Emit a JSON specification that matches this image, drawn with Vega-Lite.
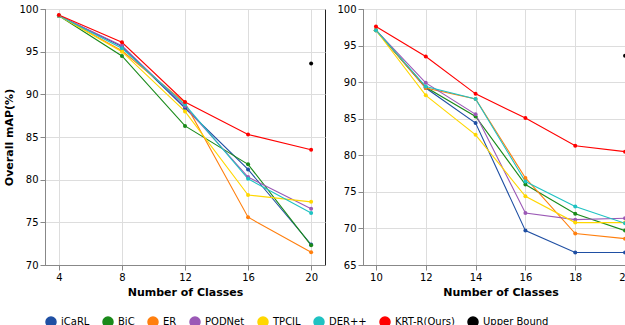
{
  "$schema": "https://vega.github.io/schema/vega-lite/v6.json",
  "padding": 3,
  "background": "white",
  "data": {"values": [
    {"p": "a", "m": "iCaRL", "x": 4, "y": 99.2}, {"p": "a", "m": "iCaRL", "x": 8, "y": 95.6}, {"p": "a", "m": "iCaRL", "x": 12, "y": 88.4}, {"p": "a", "m": "iCaRL", "x": 16, "y": 81.2}, {"p": "a", "m": "iCaRL", "x": 20, "y": 72.4},
    {"p": "a", "m": "BiC", "x": 4, "y": 99.2}, {"p": "a", "m": "BiC", "x": 8, "y": 94.5}, {"p": "a", "m": "BiC", "x": 12, "y": 86.3}, {"p": "a", "m": "BiC", "x": 16, "y": 81.8}, {"p": "a", "m": "BiC", "x": 20, "y": 72.3},
    {"p": "a", "m": "ER", "x": 4, "y": 99.2}, {"p": "a", "m": "ER", "x": 8, "y": 95.1}, {"p": "a", "m": "ER", "x": 12, "y": 89.0}, {"p": "a", "m": "ER", "x": 16, "y": 75.6}, {"p": "a", "m": "ER", "x": 20, "y": 71.5},
    {"p": "a", "m": "PODNet", "x": 4, "y": 99.2}, {"p": "a", "m": "PODNet", "x": 8, "y": 95.7}, {"p": "a", "m": "PODNet", "x": 12, "y": 88.6}, {"p": "a", "m": "PODNet", "x": 16, "y": 80.3}, {"p": "a", "m": "PODNet", "x": 20, "y": 76.6},
    {"p": "a", "m": "TPCIL", "x": 4, "y": 99.2}, {"p": "a", "m": "TPCIL", "x": 8, "y": 95.0}, {"p": "a", "m": "TPCIL", "x": 12, "y": 88.0}, {"p": "a", "m": "TPCIL", "x": 16, "y": 78.2}, {"p": "a", "m": "TPCIL", "x": 20, "y": 77.4},
    {"p": "a", "m": "DER++", "x": 4, "y": 99.2}, {"p": "a", "m": "DER++", "x": 8, "y": 95.4}, {"p": "a", "m": "DER++", "x": 12, "y": 88.8}, {"p": "a", "m": "DER++", "x": 16, "y": 80.1}, {"p": "a", "m": "DER++", "x": 20, "y": 76.1},
    {"p": "a", "m": "KRT-R(Ours)", "x": 4, "y": 99.3}, {"p": "a", "m": "KRT-R(Ours)", "x": 8, "y": 96.1}, {"p": "a", "m": "KRT-R(Ours)", "x": 12, "y": 89.1}, {"p": "a", "m": "KRT-R(Ours)", "x": 16, "y": 85.3}, {"p": "a", "m": "KRT-R(Ours)", "x": 20, "y": 83.5},
    {"p": "a", "m": "Upper Bound", "x": 20, "y": 93.6},
    {"p": "b", "m": "iCaRL", "x": 10, "y": 97.1}, {"p": "b", "m": "iCaRL", "x": 12, "y": 89.2}, {"p": "b", "m": "iCaRL", "x": 14, "y": 84.4}, {"p": "b", "m": "iCaRL", "x": 16, "y": 69.7}, {"p": "b", "m": "iCaRL", "x": 18, "y": 66.7}, {"p": "b", "m": "iCaRL", "x": 20, "y": 66.7},
    {"p": "b", "m": "BiC", "x": 10, "y": 97.1}, {"p": "b", "m": "BiC", "x": 12, "y": 89.3}, {"p": "b", "m": "BiC", "x": 14, "y": 85.3}, {"p": "b", "m": "BiC", "x": 16, "y": 76.0}, {"p": "b", "m": "BiC", "x": 18, "y": 72.0}, {"p": "b", "m": "BiC", "x": 20, "y": 69.7},
    {"p": "b", "m": "ER", "x": 10, "y": 97.1}, {"p": "b", "m": "ER", "x": 12, "y": 89.2}, {"p": "b", "m": "ER", "x": 14, "y": 87.7}, {"p": "b", "m": "ER", "x": 16, "y": 76.9}, {"p": "b", "m": "ER", "x": 18, "y": 69.3}, {"p": "b", "m": "ER", "x": 20, "y": 68.6},
    {"p": "b", "m": "PODNet", "x": 10, "y": 97.1}, {"p": "b", "m": "PODNet", "x": 12, "y": 89.9}, {"p": "b", "m": "PODNet", "x": 14, "y": 85.6}, {"p": "b", "m": "PODNet", "x": 16, "y": 72.1}, {"p": "b", "m": "PODNet", "x": 18, "y": 71.2}, {"p": "b", "m": "PODNet", "x": 20, "y": 71.4},
    {"p": "b", "m": "TPCIL", "x": 10, "y": 97.1}, {"p": "b", "m": "TPCIL", "x": 12, "y": 88.2}, {"p": "b", "m": "TPCIL", "x": 14, "y": 82.8}, {"p": "b", "m": "TPCIL", "x": 16, "y": 74.4}, {"p": "b", "m": "TPCIL", "x": 18, "y": 70.8}, {"p": "b", "m": "TPCIL", "x": 20, "y": 70.8},
    {"p": "b", "m": "DER++", "x": 10, "y": 97.1}, {"p": "b", "m": "DER++", "x": 12, "y": 89.4}, {"p": "b", "m": "DER++", "x": 14, "y": 87.7}, {"p": "b", "m": "DER++", "x": 16, "y": 76.4}, {"p": "b", "m": "DER++", "x": 18, "y": 73.0}, {"p": "b", "m": "DER++", "x": 20, "y": 70.7},
    {"p": "b", "m": "KRT-R(Ours)", "x": 10, "y": 97.6}, {"p": "b", "m": "KRT-R(Ours)", "x": 12, "y": 93.5}, {"p": "b", "m": "KRT-R(Ours)", "x": 14, "y": 88.4}, {"p": "b", "m": "KRT-R(Ours)", "x": 16, "y": 85.1}, {"p": "b", "m": "KRT-R(Ours)", "x": 18, "y": 81.3}, {"p": "b", "m": "KRT-R(Ours)", "x": 20, "y": 80.5},
    {"p": "b", "m": "Upper Bound", "x": 20, "y": 93.6}
  ]},
  "spacing": 10,
  "hconcat": [
    {
      "width": 280, "height": 256,
      "transform": [{"filter": "datum.p == 'a'"}],
      "encoding": {
        "x": {"field": "x", "type": "quantitative", "scale": {"domain": [3.12, 20.88], "nice": false, "zero": false},
              "axis": {"values": [4, 8, 12, 16, 20], "title": "Number of Classes"}},
        "y": {"field": "y", "type": "quantitative", "scale": {"domain": [70, 100], "nice": false, "zero": false},
              "axis": {"values": [70, 75, 80, 85, 90, 95, 100], "title": "Overall mAP(%)"}},
        "color": {"field": "m", "type": "nominal",
          "scale": {"domain": ["iCaRL", "BiC", "ER", "PODNet", "TPCIL", "DER++", "KRT-R(Ours)", "Upper Bound"],
                    "range": ["#1f4fa3", "#1a8a1a", "#ff7f0e", "#9b59b6", "#ffd700", "#1fc2c2", "#ff0000", "#000000"]},
          "legend": {"orient": "bottom", "direction": "horizontal", "columns": 8, "title": null}}
      },
      "layer": [
        {"transform": [{"filter": "datum.m != 'Upper Bound'"}], "mark": {"type": "line", "strokeWidth": 1.1}, "encoding": {"x": {"field": "x", "type": "quantitative"}}},
        {"mark": {"type": "point", "filled": true, "opacity": 1, "size": 16}, "encoding": {"x": {"field": "x", "type": "quantitative"}}}
      ]
    },
    {
      "width": 275, "height": 256,
      "transform": [{"filter": "datum.p == 'b'"}],
      "encoding": {
        "x": {"field": "x", "type": "quantitative", "scale": {"domain": [9.48, 20.52], "nice": false, "zero": false},
              "axis": {"values": [10, 12, 14, 16, 18, 20], "title": "Number of Classes"}},
        "y": {"field": "y", "type": "quantitative", "scale": {"domain": [65, 100], "nice": false, "zero": false},
              "axis": {"values": [65, 70, 75, 80, 85, 90, 95, 100], "title": null}},
        "color": {"field": "m", "type": "nominal"}
      },
      "layer": [
        {"transform": [{"filter": "datum.m != 'Upper Bound'"}], "mark": {"type": "line", "strokeWidth": 1.1}, "encoding": {"x": {"field": "x", "type": "quantitative"}}},
        {"mark": {"type": "point", "filled": true, "opacity": 1, "size": 16}, "encoding": {"x": {"field": "x", "type": "quantitative"}}}
      ]
    }
  ],
  "config": {
    "font": "DejaVu Sans",
    "view": {"stroke": "#222", "strokeWidth": 1}
  }
}
